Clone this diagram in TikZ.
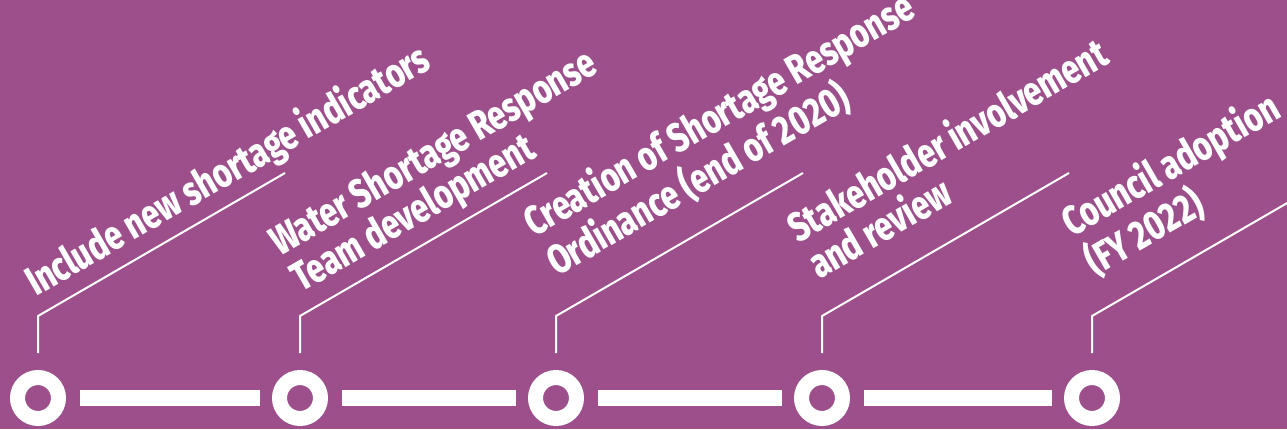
\documentclass[tikz,border=0pt]{standalone}
\usepackage{fontspec}
\setmainfont{Fira Sans}[BoldFont={Fira Sans ExtraBold}, FakeStretch=0.765]
\usepackage{tikz}
\usetikzlibrary{positioning}
\definecolor{plum}{RGB}{157,79,140}

\begin{document}
\begin{tikzpicture}[x=1pt,y=-1pt]
\tikzstyle{ring}=[circle, draw=white, line width=15pt, minimum size=41pt, inner sep=0pt, outer sep=7.5pt]
\tikzstyle{bar}=[draw=white, line width=16pt]
\tikzstyle{lead}=[draw=white, line width=2pt]
\tikzstyle{stagetext}=[text=white, font=\bfseries\fontsize{41}{42}\selectfont, rotate=30, anchor=base west, align=left, inner sep=0pt]

  \fill[plum] (0,0) rectangle (1287,429);
  \clip (0,0) rectangle (1287,429);

  \node[ring] (r1) at (38,398) {};
  \node[ring] (r2) at (300,398) {};
  \node[ring] (r3) at (556,398) {};
  \node[ring] (r4) at (822,398) {};
  \node[ring] (r5) at (1092,398) {};

  \draw[bar] ([xshift=14pt]r1.east) -- ([xshift=-12pt]r2.west);
  \draw[bar] ([xshift=14pt]r2.east) -- ([xshift=-12pt]r3.west);
  \draw[bar] ([xshift=14pt]r3.east) -- ([xshift=-12pt]r4.west);
  \draw[bar] ([xshift=14pt]r4.east) -- ([xshift=-12pt]r5.west);

  \coordinate (k1) at ([yshift=54pt]r1.north);
  \coordinate (k2) at ([yshift=54pt]r2.north);
  \coordinate (k3) at ([yshift=54pt]r3.north);
  \coordinate (k4) at ([yshift=54pt]r4.north);
  \coordinate (k5) at ([yshift=54pt]r5.north);
  \coordinate (e1) at ([shift={(247pt,143pt)}]k1);
  \coordinate (e2) at ([shift={(247pt,143pt)}]k2);
  \coordinate (e3) at ([shift={(247pt,143pt)}]k3);
  \coordinate (e4) at ([shift={(247pt,143pt)}]k4);
  \coordinate (e5) at ([shift={(247pt,143pt)}]k5);

  \draw[lead] ([yshift=17pt]r1.north) -- (k1) -- (e1);
  \draw[lead] ([yshift=17pt]r2.north) -- (k2) -- (e2);
  \draw[lead] ([yshift=17pt]r3.north) -- (k3) -- (e3);
  \draw[lead] ([yshift=17pt]r4.north) -- (k4) -- (e4);
  \draw[lead] ([yshift=17pt]r5.north) -- (k5) -- (e5);

  % anchor is the baseline of the last line
  \node[stagetext] (t1) at (36,297) {Include new shortage indicators};
  \node[stagetext] (t2) at (301,293) {Water Shortage Response\\Team development};
  \node[stagetext] (t3) at (557,277) {Creation of Shortage Response\\Ordinance (end of 2020)};
  \node[stagetext] (t4) at (819,280) {Stakeholder involvement\\and review};
  \node[stagetext] (t5) at (1095,277) {Council adoption\\(FY 2022)};
\end{tikzpicture}
\end{document}
